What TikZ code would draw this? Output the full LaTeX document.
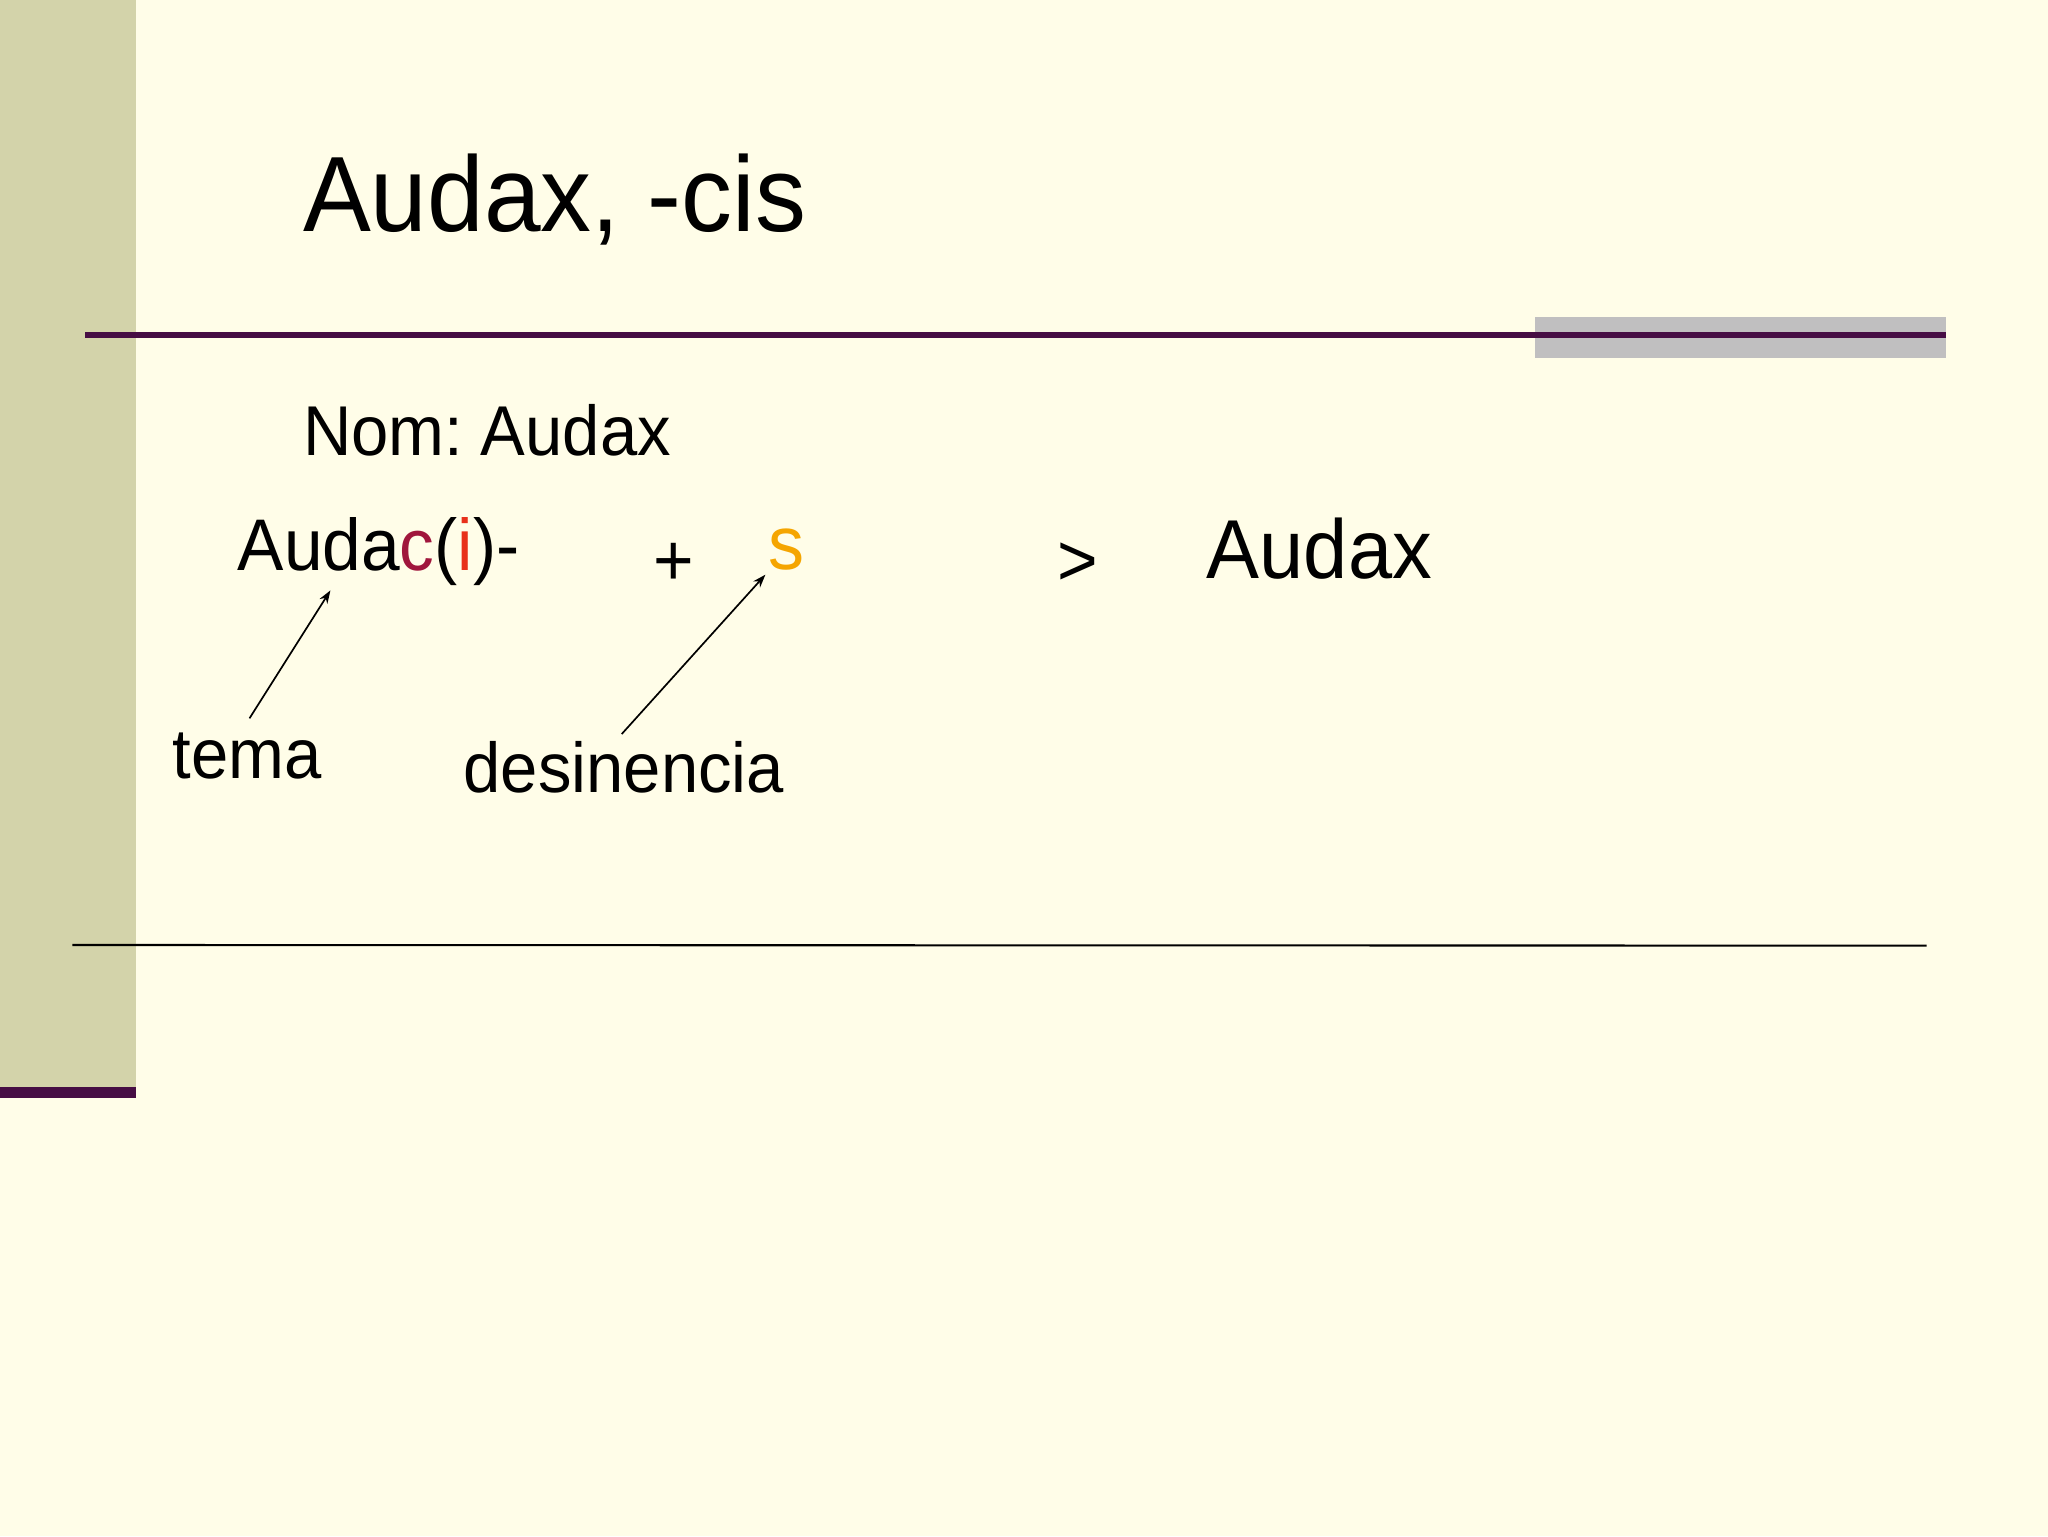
\documentclass[tikz,border=0pt]{standalone}
\usepackage{fontspec}
\setmainfont{Liberation Sans}[FakeStretch=0.95]
\usetikzlibrary{arrows.meta}
\definecolor{bgc}{RGB}{255,253,232}
\definecolor{bandc}{RGB}{211,211,170}
\definecolor{purp}{RGB}{70,13,68}
\definecolor{grayb}{RGB}{192,191,192}
\definecolor{cred}{RGB}{160,22,60}
\definecolor{ired}{RGB}{232,48,26}
\definecolor{sorange}{RGB}{245,165,0}
\tikzset{
  txt/.style={anchor=base west, inner sep=0pt, outer sep=0pt, text=black},
  pointer/.style={draw=black, line width=1.3pt, -{Stealth[length=10pt,width=7pt]}},
}
\newcommand{\fs}[1]{\fontsize{#1}{#1}\selectfont}
\begin{document}
\begin{tikzpicture}[x=1pt,y=-1pt]
\useasboundingbox (0,0) rectangle (1568,1176);
\fill[bgc] (0,0) rectangle (1568,1176);
% left band
\fill[bandc] (0,0) rectangle (104.5,840);
\fill[purp] (0,832) rectangle (104.5,840.5);
% grey box and top rule
\fill[grayb] (1175,243) rectangle (1490,274);
\fill[purp] (65,254) rectangle (1490,258.5);
% bottom rule
\draw[black, line width=1.6pt] (55.5,723.5) -- (1475,724);
% texts
\node[txt] (title) at (232,177) {\fs{82}Audax, -cis};
\node[txt] (nom) at (232,349) {\fs{54}Nom:\hspace{-0.1em} Audax};
\node[txt] (stem) at (182,437) {\fs{56}Auda\textcolor{cred}{c}(\textcolor{ired}{i})-};
\node[txt] (plus) at (500,448) {\fs{56}+};
\node[txt] (ending) at (588,436) {\fs{58}\textcolor{sorange}{s}};
\node[txt] (gt) at (810,448) {\fs{56}>};
\node[txt] (result) at (924,443) {\fs{64}Audax};
\node[txt] (tema) at (132,596) {\fs{54}tema};
\node[txt] (des) at (355,607) {\fs{54}desinencia};
% arrows
\coordinate (temaTip) at (191,550);
\coordinate (stemPt) at (253,452);
\coordinate (desTip) at (476,562);
\coordinate (sPt) at (586,440);
\draw[pointer] (temaTip) -- (stemPt);
\draw[pointer] (desTip) -- (sPt);
\end{tikzpicture}
\end{document}
